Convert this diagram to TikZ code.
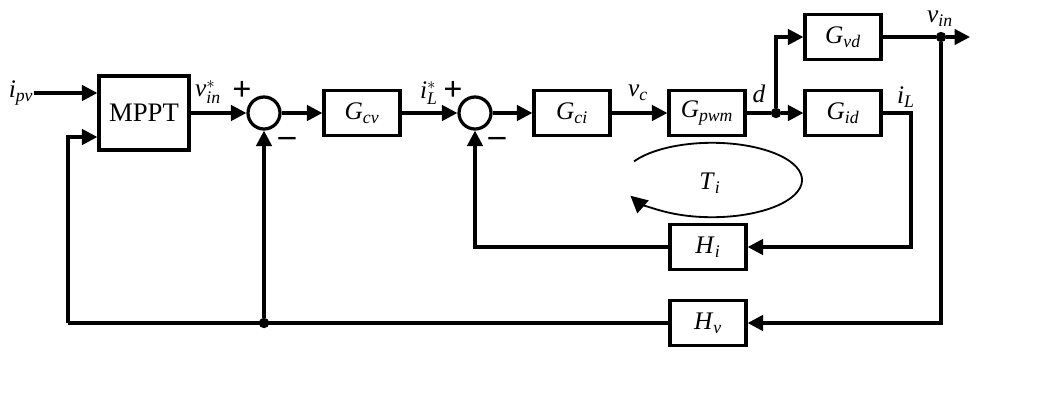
\documentclass[tikz,border=0pt]{standalone}
\usepackage{amsmath}
\usepackage{fontspec}
\setmainfont{Liberation Serif}
\usetikzlibrary{arrows.meta}
\tikzset{
  blk/.style={rectangle, draw, line width=2.3pt, minimum width=1.9cm, minimum height=1.12cm, inner sep=0pt, fill=white},
  sumnode/.style={circle, draw, line width=2.3pt, minimum size=0.8cm, inner sep=0pt},
  dotnode/.style={circle, fill, inner sep=0pt, minimum size=0.26cm},
  sig/.style={line width=2.3pt, -{Triangle[length=11pt, width=11pt]}},
  wire/.style={line width=2.3pt},
  lbl/.style={inner sep=0pt, font=\fontsize{18}{21}\selectfont},
  sgn/.style={inner sep=0pt, font=\fontsize{24}{26}\selectfont\bfseries}
}
\newcommand{\sym}[2]{\textit{#1}\textsubscript{\textit{#2}}}

\begin{document}
\begin{tikzpicture}[x=0.025cm, y=-0.025cm]
  \useasboundingbox (0,0) rectangle (1045,408);
  \node[blk, minimum width=2.25cm, minimum height=1.85cm, font=\fontsize{19}{22}\selectfont] (mppt) at (144,113) {MPPT};
  \node[sumnode] (sum1) at (264,113) {};
  \node[blk, font=\fontsize{18}{21}\selectfont] (gcv) at (362,113) {\sym{G}{cv}};
  \node[sumnode] (sum2) at (475,113) {};
  \node[blk, font=\fontsize{18}{21}\selectfont] (gci) at (572,113) {\sym{G}{ci}};
  \node[blk, font=\fontsize{18}{21}\selectfont] (gpwm) at (707,113) {\sym{G}{pwm}};
  \node[dotnode] (dd) at (776,113) {};
  \node[blk, font=\fontsize{18}{21}\selectfont] (gvd) at (843,37) {\sym{G}{vd}};
  \node[blk, font=\fontsize{18}{21}\selectfont] (gid) at (843,113) {\sym{G}{id}};
  \node[dotnode] (vdot) at (941,37) {};
  \coordinate (vout) at (970,37);
  \coordinate (ilc) at (911,113);
  \node[blk, font=\fontsize{18}{21}\selectfont] (hi) at (708,247) {\sym{H}{i}};
  \node[blk, font=\fontsize{18}{21}\selectfont] (hv) at (708,323) {\sym{H}{v}};
  \node[dotnode] (bdot) at (264,323) {};
  \coordinate (fbc) at (68,323);

  \node[lbl] (ipv) at (21,93) {\sym{i}{pv}};
  \node[lbl] (vref) at (208,92) {\textit{v}$^{*}_{\textit{in}}$};
  \node[sgn] (p1) at (242,91) {+};
  \node[sgn] (m1) at (287,142) {\textendash};
  \node[lbl] (iref) at (429,93) {\textit{i}$^{*}_{\textit{L}}$};
  \node[sgn] (p2) at (453,91) {+};
  \node[sgn] (m2) at (497,142) {\textendash};
  \node[lbl] (vc) at (638,93) {\sym{v}{c}};
  \node[lbl] (dl) at (759,94) {\textit{d}};
  \node[lbl] (vin) at (940,19) {\sym{v}{in}};
  \node[lbl] (il) at (906,97) {\sym{i}{L}};
  \node[lbl] (ti) at (710,183) {\sym{T}{i}};

  \draw[sig] (ipv.east) -- (ipv.east -| mppt.west);
  \draw[sig] (mppt) -- (sum1);
  \draw[sig] (sum1) -- (gcv);
  \draw[sig] (gcv) -- (sum2);
  \draw[sig] (sum2) -- (gci);
  \draw[sig] (gci) -- (gpwm);
  \draw[wire] (gpwm) -- (dd);
  \draw[sig] (dd) -- (gid);
  \draw[sig] (dd) |- (gvd);
  \draw[sig] (gvd) -- (vdot) -- (vout);
  \draw[sig] (gid) -- (ilc) |- (hi);
  \draw[sig] (hi) -| (sum2);
  \draw[sig] (vdot) |- (hv);
  \draw[wire] (hv) -- (fbc);
  \draw[sig] (fbc) |- ([yshift=-0.6cm]mppt.west);
  \draw[sig] (bdot) -- (sum1);
  \draw[line width=1.3pt, -{Triangle[length=12pt, width=12pt]}] (712,180) ++(150:2.25cm and 0.93cm) arc[start angle=150, end angle=-155, x radius=2.25cm, y radius=0.93cm];
\end{tikzpicture}
\end{document}
